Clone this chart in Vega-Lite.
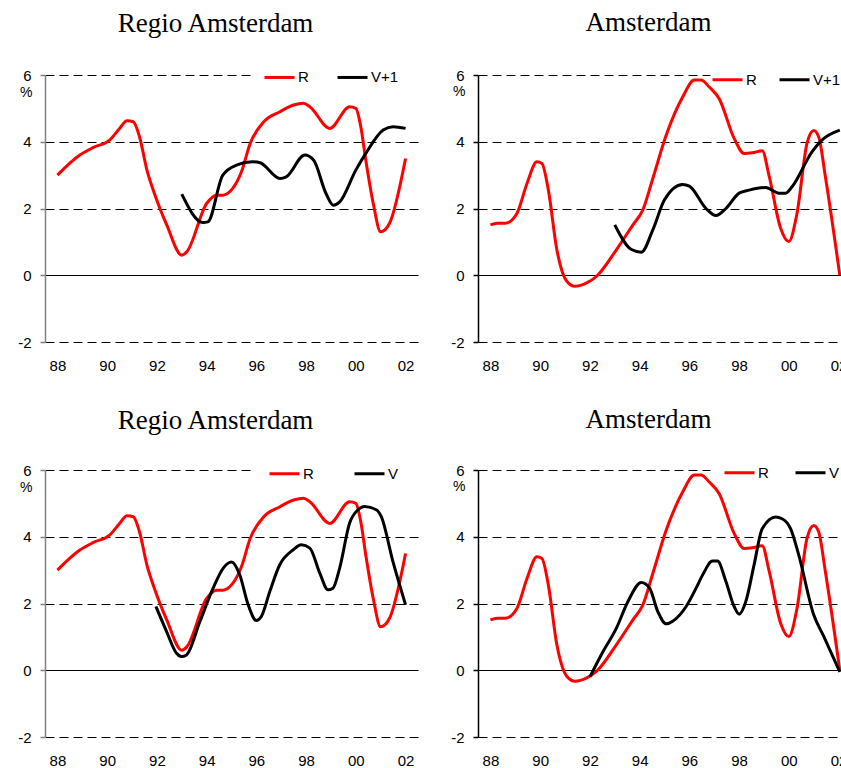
{
  "$schema": "https://vega.github.io/schema/vega-lite/v6.json",
  "autosize": {"type": "none"},
  "padding": {"left": 45, "top": 75, "right": 796, "bottom": 693},
  "background": "white",
  "config": {
    "view": {"stroke": null},
    "title": {"font": "Liberation Serif", "fontSize": 27, "fontWeight": "normal", "color": "black", "anchor": "middle", "dx": -16, "baseline": "alphabetic"},
    "axis": {"labelFont": "Liberation Sans", "labelFontSize": 15, "labelColor": "black", "titleFont": "Liberation Sans", "titleFontSize": 14, "titleFontWeight": "normal", "titleColor": "black"},
    "axisX": {"domain": false, "ticks": false, "grid": false, "labelPadding": 16, "labelFlush": false, "title": null},
    "axisY": {"grid": true, "gridColor": "black", "gridWidth": 1, "domainWidth": 1.5, "tickSize": 5, "tickWidth": 1.5, "labelPadding": 9, "titleAngle": 0, "titleAlign": "right", "titleBaseline": "middle", "titleX": -13},
    "legend": {"labelFont": "Liberation Sans", "labelFontSize": 15, "labelColor": "black", "orient": "none", "direction": "horizontal", "title": null, "symbolType": "M-1,0H5", "symbolSize": 100, "symbolStrokeWidth": 3, "labelOffset": 21, "padding": 0}
  },
  "data": {"values": [
    {"gebied":"Regio","reeks":"R","jaar":88.0,"waarde":3.0},
    {"gebied":"Regio","reeks":"R","jaar":88.9,"waarde":3.6},
    {"gebied":"Regio","reeks":"R","jaar":89.45,"waarde":3.83},
    {"gebied":"Regio","reeks":"R","jaar":90.1,"waarde":4.05},
    {"gebied":"Regio","reeks":"R","jaar":90.5,"waarde":4.4},
    {"gebied":"Regio","reeks":"R","jaar":90.8,"waarde":4.63},
    {"gebied":"Regio","reeks":"R","jaar":91.05,"waarde":4.6},
    {"gebied":"Regio","reeks":"R","jaar":91.3,"waarde":4.15},
    {"gebied":"Regio","reeks":"R","jaar":91.6,"waarde":3.15},
    {"gebied":"Regio","reeks":"R","jaar":91.9,"waarde":2.45},
    {"gebied":"Regio","reeks":"R","jaar":92.4,"waarde":1.5},
    {"gebied":"Regio","reeks":"R","jaar":93.0,"waarde":0.6},
    {"gebied":"Regio","reeks":"R","jaar":93.2,"waarde":0.7},
    {"gebied":"Regio","reeks":"R","jaar":94.0,"waarde":2.15},
    {"gebied":"Regio","reeks":"R","jaar":94.4,"waarde":2.4},
    {"gebied":"Regio","reeks":"R","jaar":94.65,"waarde":2.4},
    {"gebied":"Regio","reeks":"R","jaar":95.05,"waarde":2.6},
    {"gebied":"Regio","reeks":"R","jaar":95.4,"waarde":3.1},
    {"gebied":"Regio","reeks":"R","jaar":95.75,"waarde":3.95},
    {"gebied":"Regio","reeks":"R","jaar":96.3,"waarde":4.6},
    {"gebied":"Regio","reeks":"R","jaar":96.95,"waarde":4.9},
    {"gebied":"Regio","reeks":"R","jaar":97.5,"waarde":5.1},
    {"gebied":"Regio","reeks":"R","jaar":97.9,"waarde":5.15},
    {"gebied":"Regio","reeks":"R","jaar":98.15,"waarde":5.05},
    {"gebied":"Regio","reeks":"R","jaar":98.95,"waarde":4.4},
    {"gebied":"Regio","reeks":"R","jaar":99.75,"waarde":5.05},
    {"gebied":"Regio","reeks":"R","jaar":100.0,"waarde":5.0},
    {"gebied":"Regio","reeks":"R","jaar":100.2,"waarde":4.45},
    {"gebied":"Regio","reeks":"R","jaar":100.4,"waarde":3.45},
    {"gebied":"Regio","reeks":"R","jaar":100.7,"waarde":2.15},
    {"gebied":"Regio","reeks":"R","jaar":101.0,"waarde":1.3},
    {"gebied":"Regio","reeks":"R","jaar":101.35,"waarde":1.55},
    {"gebied":"Regio","reeks":"R","jaar":102.0,"waarde":3.5},

    {"gebied":"Amsterdam","reeks":"R","jaar":88.0,"waarde":1.51},
    {"gebied":"Amsterdam","reeks":"R","jaar":88.27,"waarde":1.56},
    {"gebied":"Amsterdam","reeks":"R","jaar":88.6,"waarde":1.56},
    {"gebied":"Amsterdam","reeks":"R","jaar":89.07,"waarde":1.86},
    {"gebied":"Amsterdam","reeks":"R","jaar":89.47,"waarde":2.75},
    {"gebied":"Amsterdam","reeks":"R","jaar":89.87,"waarde":3.4},
    {"gebied":"Amsterdam","reeks":"R","jaar":90.07,"waarde":3.35},
    {"gebied":"Amsterdam","reeks":"R","jaar":90.33,"waarde":2.55},
    {"gebied":"Amsterdam","reeks":"R","jaar":90.67,"waarde":0.77},
    {"gebied":"Amsterdam","reeks":"R","jaar":91.07,"waarde":-0.18},
    {"gebied":"Amsterdam","reeks":"R","jaar":91.4,"waarde":-0.33},
    {"gebied":"Amsterdam","reeks":"R","jaar":91.87,"waarde":-0.23},
    {"gebied":"Amsterdam","reeks":"R","jaar":92.27,"waarde":-0.03},
    {"gebied":"Amsterdam","reeks":"R","jaar":93.07,"waarde":0.77},
    {"gebied":"Amsterdam","reeks":"R","jaar":93.73,"waarde":1.51},
    {"gebied":"Amsterdam","reeks":"R","jaar":94.13,"waarde":1.96},
    {"gebied":"Amsterdam","reeks":"R","jaar":94.53,"waarde":2.9},
    {"gebied":"Amsterdam","reeks":"R","jaar":95.07,"waarde":4.2},
    {"gebied":"Amsterdam","reeks":"R","jaar":95.73,"waarde":5.34},
    {"gebied":"Amsterdam","reeks":"R","jaar":96.2,"waarde":5.85},
    {"gebied":"Amsterdam","reeks":"R","jaar":96.47,"waarde":5.85},
    {"gebied":"Amsterdam","reeks":"R","jaar":96.8,"waarde":5.64},
    {"gebied":"Amsterdam","reeks":"R","jaar":97.2,"waarde":5.29},
    {"gebied":"Amsterdam","reeks":"R","jaar":97.8,"waarde":4.1},
    {"gebied":"Amsterdam","reeks":"R","jaar":98.2,"waarde":3.65},
    {"gebied":"Amsterdam","reeks":"R","jaar":98.53,"waarde":3.67},
    {"gebied":"Amsterdam","reeks":"R","jaar":98.93,"waarde":3.73},
    {"gebied":"Amsterdam","reeks":"R","jaar":99.2,"waarde":3.0},
    {"gebied":"Amsterdam","reeks":"R","jaar":99.67,"waarde":1.41},
    {"gebied":"Amsterdam","reeks":"R","jaar":100.0,"waarde":1.01},
    {"gebied":"Amsterdam","reeks":"R","jaar":100.33,"waarde":1.86},
    {"gebied":"Amsterdam","reeks":"R","jaar":100.73,"waarde":3.95},
    {"gebied":"Amsterdam","reeks":"R","jaar":101.0,"waarde":4.34},
    {"gebied":"Amsterdam","reeks":"R","jaar":101.2,"waarde":4.15},
    {"gebied":"Amsterdam","reeks":"R","jaar":101.47,"waarde":2.95},
    {"gebied":"Amsterdam","reeks":"R","jaar":102.05,"waarde":0.0},

    {"gebied":"Regio","reeks":"V+1","jaar":93.0,"waarde":2.43},
    {"gebied":"Regio","reeks":"V+1","jaar":93.85,"waarde":1.58},
    {"gebied":"Regio","reeks":"V+1","jaar":94.05,"waarde":1.6},
    {"gebied":"Regio","reeks":"V+1","jaar":94.65,"waarde":3.0},
    {"gebied":"Regio","reeks":"V+1","jaar":95.2,"waarde":3.3},
    {"gebied":"Regio","reeks":"V+1","jaar":95.85,"waarde":3.4},
    {"gebied":"Regio","reeks":"V+1","jaar":96.15,"waarde":3.37},
    {"gebied":"Regio","reeks":"V+1","jaar":96.95,"waarde":2.9},
    {"gebied":"Regio","reeks":"V+1","jaar":97.2,"waarde":2.95},
    {"gebied":"Regio","reeks":"V+1","jaar":97.95,"waarde":3.6},
    {"gebied":"Regio","reeks":"V+1","jaar":98.3,"waarde":3.45},
    {"gebied":"Regio","reeks":"V+1","jaar":98.8,"waarde":2.45},
    {"gebied":"Regio","reeks":"V+1","jaar":99.1,"waarde":2.1},
    {"gebied":"Regio","reeks":"V+1","jaar":99.35,"waarde":2.2},
    {"gebied":"Regio","reeks":"V+1","jaar":100.0,"waarde":3.15},
    {"gebied":"Regio","reeks":"V+1","jaar":100.4,"waarde":3.65},
    {"gebied":"Regio","reeks":"V+1","jaar":101.1,"waarde":4.35},
    {"gebied":"Regio","reeks":"V+1","jaar":101.5,"waarde":4.45},
    {"gebied":"Regio","reeks":"V+1","jaar":102.0,"waarde":4.4},

    {"gebied":"Amsterdam","reeks":"V+1","jaar":93.0,"waarde":1.51},
    {"gebied":"Amsterdam","reeks":"V+1","jaar":93.67,"waarde":0.77},
    {"gebied":"Amsterdam","reeks":"V+1","jaar":94.07,"waarde":0.69},
    {"gebied":"Amsterdam","reeks":"V+1","jaar":94.53,"waarde":1.36},
    {"gebied":"Amsterdam","reeks":"V+1","jaar":95.0,"waarde":2.26},
    {"gebied":"Amsterdam","reeks":"V+1","jaar":95.73,"waarde":2.72},
    {"gebied":"Amsterdam","reeks":"V+1","jaar":96.0,"waarde":2.67},
    {"gebied":"Amsterdam","reeks":"V+1","jaar":96.67,"waarde":2.0},
    {"gebied":"Amsterdam","reeks":"V+1","jaar":97.07,"waarde":1.79},
    {"gebied":"Amsterdam","reeks":"V+1","jaar":97.47,"waarde":2.0},
    {"gebied":"Amsterdam","reeks":"V+1","jaar":98.0,"waarde":2.46},
    {"gebied":"Amsterdam","reeks":"V+1","jaar":98.4,"waarde":2.55},
    {"gebied":"Amsterdam","reeks":"V+1","jaar":99.07,"waarde":2.63},
    {"gebied":"Amsterdam","reeks":"V+1","jaar":99.6,"waarde":2.46},
    {"gebied":"Amsterdam","reeks":"V+1","jaar":99.87,"waarde":2.46},
    {"gebied":"Amsterdam","reeks":"V+1","jaar":100.13,"waarde":2.65},
    {"gebied":"Amsterdam","reeks":"V+1","jaar":100.93,"waarde":3.7},
    {"gebied":"Amsterdam","reeks":"V+1","jaar":101.33,"waarde":4.05},
    {"gebied":"Amsterdam","reeks":"V+1","jaar":102.05,"waarde":4.35},

    {"gebied":"Regio","reeks":"V","jaar":91.96,"waarde":1.91},
    {"gebied":"Regio","reeks":"V","jaar":92.39,"waarde":1.16},
    {"gebied":"Regio","reeks":"V","jaar":92.79,"waarde":0.51},
    {"gebied":"Regio","reeks":"V","jaar":92.99,"waarde":0.41},
    {"gebied":"Regio","reeks":"V","jaar":93.19,"waarde":0.46},
    {"gebied":"Regio","reeks":"V","jaar":93.73,"waarde":1.46},
    {"gebied":"Regio","reeks":"V","jaar":94.26,"waarde":2.46},
    {"gebied":"Regio","reeks":"V","jaar":94.67,"waarde":3.06},
    {"gebied":"Regio","reeks":"V","jaar":95.0,"waarde":3.24},
    {"gebied":"Regio","reeks":"V","jaar":95.33,"waarde":2.86},
    {"gebied":"Regio","reeks":"V","jaar":95.67,"waarde":1.96},
    {"gebied":"Regio","reeks":"V","jaar":96.0,"waarde":1.49},
    {"gebied":"Regio","reeks":"V","jaar":96.2,"waarde":1.61},
    {"gebied":"Regio","reeks":"V","jaar":96.54,"waarde":2.36},
    {"gebied":"Regio","reeks":"V","jaar":96.94,"waarde":3.16},
    {"gebied":"Regio","reeks":"V","jaar":97.48,"waarde":3.61},
    {"gebied":"Regio","reeks":"V","jaar":97.81,"waarde":3.76},
    {"gebied":"Regio","reeks":"V","jaar":98.15,"waarde":3.66},
    {"gebied":"Regio","reeks":"V","jaar":98.55,"waarde":2.91},
    {"gebied":"Regio","reeks":"V","jaar":98.88,"waarde":2.41},
    {"gebied":"Regio","reeks":"V","jaar":99.08,"waarde":2.46},
    {"gebied":"Regio","reeks":"V","jaar":99.35,"waarde":3.06},
    {"gebied":"Regio","reeks":"V","jaar":99.75,"waarde":4.41},
    {"gebied":"Regio","reeks":"V","jaar":100.09,"waarde":4.81},
    {"gebied":"Regio","reeks":"V","jaar":100.35,"waarde":4.91},
    {"gebied":"Regio","reeks":"V","jaar":100.82,"waarde":4.81},
    {"gebied":"Regio","reeks":"V","jaar":101.02,"waarde":4.61},
    {"gebied":"Regio","reeks":"V","jaar":101.49,"waarde":3.26},
    {"gebied":"Regio","reeks":"V","jaar":102.0,"waarde":1.96},

    {"gebied":"Amsterdam","reeks":"V","jaar":92.0,"waarde":-0.2},
    {"gebied":"Amsterdam","reeks":"V","jaar":92.47,"waarde":0.48},
    {"gebied":"Amsterdam","reeks":"V","jaar":93.07,"waarde":1.27},
    {"gebied":"Amsterdam","reeks":"V","jaar":93.53,"waarde":2.06},
    {"gebied":"Amsterdam","reeks":"V","jaar":94.07,"waarde":2.63},
    {"gebied":"Amsterdam","reeks":"V","jaar":94.4,"waarde":2.46},
    {"gebied":"Amsterdam","reeks":"V","jaar":94.73,"waarde":1.76},
    {"gebied":"Amsterdam","reeks":"V","jaar":95.07,"waarde":1.39},
    {"gebied":"Amsterdam","reeks":"V","jaar":95.33,"waarde":1.47},
    {"gebied":"Amsterdam","reeks":"V","jaar":95.87,"waarde":1.91},
    {"gebied":"Amsterdam","reeks":"V","jaar":96.27,"waarde":2.46},
    {"gebied":"Amsterdam","reeks":"V","jaar":96.53,"waarde":2.85},
    {"gebied":"Amsterdam","reeks":"V","jaar":96.93,"waarde":3.27},
    {"gebied":"Amsterdam","reeks":"V","jaar":97.13,"waarde":3.27},
    {"gebied":"Amsterdam","reeks":"V","jaar":97.47,"waarde":2.66},
    {"gebied":"Amsterdam","reeks":"V","jaar":97.8,"waarde":1.91},
    {"gebied":"Amsterdam","reeks":"V","jaar":98.0,"waarde":1.68},
    {"gebied":"Amsterdam","reeks":"V","jaar":98.27,"waarde":2.06},
    {"gebied":"Amsterdam","reeks":"V","jaar":98.6,"waarde":3.15},
    {"gebied":"Amsterdam","reeks":"V","jaar":98.93,"waarde":4.24},
    {"gebied":"Amsterdam","reeks":"V","jaar":99.47,"waarde":4.59},
    {"gebied":"Amsterdam","reeks":"V","jaar":99.73,"waarde":4.54},
    {"gebied":"Amsterdam","reeks":"V","jaar":100.07,"waarde":4.24},
    {"gebied":"Amsterdam","reeks":"V","jaar":100.4,"waarde":3.45},
    {"gebied":"Amsterdam","reeks":"V","jaar":101.0,"waarde":1.66},
    {"gebied":"Amsterdam","reeks":"V","jaar":101.4,"waarde":1.02},
    {"gebied":"Amsterdam","reeks":"V","jaar":102.05,"waarde":-0.05}
  ]},
  "columns": 2,
  "spacing": {"row": 128, "column": 60},
  "bounds": "flush",
  "resolve": {"scale": {"color": "independent"}, "legend": {"color": "independent"}},
  "concat": [
    {
      "title": {"text": "Regio Amsterdam", "offset": 30},
      "width": 373, "height": 267,
      "transform": [{"filter": "datum.gebied === 'Regio' && (datum.reeks === 'R' || datum.reeks === 'V+1')"}],
      "mark": {"type": "line", "interpolate": "monotone", "strokeWidth": 3},
      "encoding": {
        "x": {"field": "jaar", "type": "quantitative", "scale": {"domain": [87.5, 102.5], "nice": false, "zero": false},
              "axis": {"values": [88,90,92,94,96,98,100,102], "labelExpr": "datum.value >= 100 ? '0' + (datum.value - 100) : '' + datum.value"}},
        "y": {"field": "waarde", "type": "quantitative", "scale": {"domain": [-2, 6], "nice": false, "zero": false},
              "axis": {"values": [-2,0,2,4,6], "labelExpr": "datum.value < 0 ? '-' + abs(datum.value) : '' + datum.value",
                       "gridDash": {"condition": [{"test": "datum.value === 0", "value": []}, {"test": "datum.value === 6", "value": [9,5,9,5,9,5,9,5,9,5,9,5,9,5,9,5,9,5,9,5,9,5,9,5,9,5,9,5,9,600]}], "value": [9, 5]},
                       "domainColor": "#808080", "tickColor": "#808080", "title": "%", "titleY": 17}},
        "color": {"field": "reeks", "type": "nominal", "scale": {"domain": ["R", "V+1"], "range": ["#ff0000", "#000000"]},
                  "legend": {"legendX": 217, "legendY": -5.3, "columnPadding": 22}}
      }
    },
    {
      "title": {"text": "Amsterdam", "offset": 31},
      "width": 373, "height": 267,
      "transform": [{"filter": "datum.gebied === 'Amsterdam' && (datum.reeks === 'R' || datum.reeks === 'V+1')"}],
      "mark": {"type": "line", "interpolate": "monotone", "strokeWidth": 3},
      "encoding": {
        "x": {"field": "jaar", "type": "quantitative", "scale": {"domain": [87.5, 102.5], "nice": false, "zero": false},
              "axis": {"values": [88,90,92,94,96,98,100,102], "labelExpr": "datum.value >= 100 ? '0' + (datum.value - 100) : '' + datum.value"}},
        "y": {"field": "waarde", "type": "quantitative", "scale": {"domain": [-2, 6], "nice": false, "zero": false},
              "axis": {"values": [-2,0,2,4,6], "labelExpr": "datum.value < 0 ? '-' + abs(datum.value) : '' + datum.value",
                       "gridDash": {"condition": [{"test": "datum.value === 0", "value": []}, {"test": "datum.value === 6", "value": [9,5,9,5,9,5,9,5,9,5,9,5,9,5,9,5,9,5,9,5,9,5,9,5,9,5,9,5,9,5,9,5,8,600]}], "value": [9, 5]},
                       "domainColor": "black", "tickColor": "black", "title": "%", "titleY": 16}},
        "color": {"field": "reeks", "type": "nominal", "scale": {"domain": ["R", "V+1"], "range": ["#ff0000", "#000000"]},
                  "legend": {"legendX": 232, "legendY": -3, "columnPadding": 16}}
      }
    },
    {
      "title": {"text": "Regio Amsterdam", "offset": 28},
      "width": 373, "height": 267,
      "transform": [{"filter": "datum.gebied === 'Regio' && (datum.reeks === 'R' || datum.reeks === 'V')"}],
      "mark": {"type": "line", "interpolate": "monotone", "strokeWidth": 3},
      "encoding": {
        "x": {"field": "jaar", "type": "quantitative", "scale": {"domain": [87.5, 102.5], "nice": false, "zero": false},
              "axis": {"values": [88,90,92,94,96,98,100,102], "labelExpr": "datum.value >= 100 ? '0' + (datum.value - 100) : '' + datum.value"}},
        "y": {"field": "waarde", "type": "quantitative", "scale": {"domain": [-2, 6], "nice": false, "zero": false},
              "axis": {"values": [-2,0,2,4,6], "labelExpr": "datum.value < 0 ? '-' + abs(datum.value) : '' + datum.value",
                       "gridDash": {"condition": [{"test": "datum.value === 0", "value": []}, {"test": "datum.value === 6", "value": [9,5,9,5,9,5,9,5,9,5,9,5,9,5,9,5,9,5,9,5,9,5,9,5,9,5,9,5,9,600]}], "value": [9, 5]},
                       "domainColor": "#808080", "tickColor": "#808080", "title": "%", "titleY": 17}},
        "color": {"field": "reeks", "type": "nominal", "scale": {"domain": ["R", "V"], "range": ["#ff0000", "#000000"]},
                  "legend": {"legendX": 222, "legendY": -4, "columnPadding": 34}}
      }
    },
    {
      "title": {"text": "Amsterdam", "offset": 29},
      "width": 373, "height": 267,
      "transform": [{"filter": "datum.gebied === 'Amsterdam' && (datum.reeks === 'R' || datum.reeks === 'V')"}],
      "mark": {"type": "line", "interpolate": "monotone", "strokeWidth": 3},
      "encoding": {
        "x": {"field": "jaar", "type": "quantitative", "scale": {"domain": [87.5, 102.5], "nice": false, "zero": false},
              "axis": {"values": [88,90,92,94,96,98,100,102], "labelExpr": "datum.value >= 100 ? '0' + (datum.value - 100) : '' + datum.value"}},
        "y": {"field": "waarde", "type": "quantitative", "scale": {"domain": [-2, 6], "nice": false, "zero": false},
              "axis": {"values": [-2,0,2,4,6], "labelExpr": "datum.value < 0 ? '-' + abs(datum.value) : '' + datum.value",
                       "gridDash": {"condition": [{"test": "datum.value === 0", "value": []}, {"test": "datum.value === 6", "value": [9,5,9,5,9,5,9,5,9,5,9,5,9,5,9,5,9,5,9,5,9,5,9,5,9,5,9,5,9,5,9,5,8,600]}], "value": [9, 5]},
                       "domainColor": "black", "tickColor": "black", "title": "%", "titleY": 16}},
        "color": {"field": "reeks", "type": "nominal", "scale": {"domain": ["R", "V"], "range": ["#ff0000", "#000000"]},
                  "legend": {"legendX": 244, "legendY": -5, "columnPadding": 20}}
      }
    }
  ]
}
